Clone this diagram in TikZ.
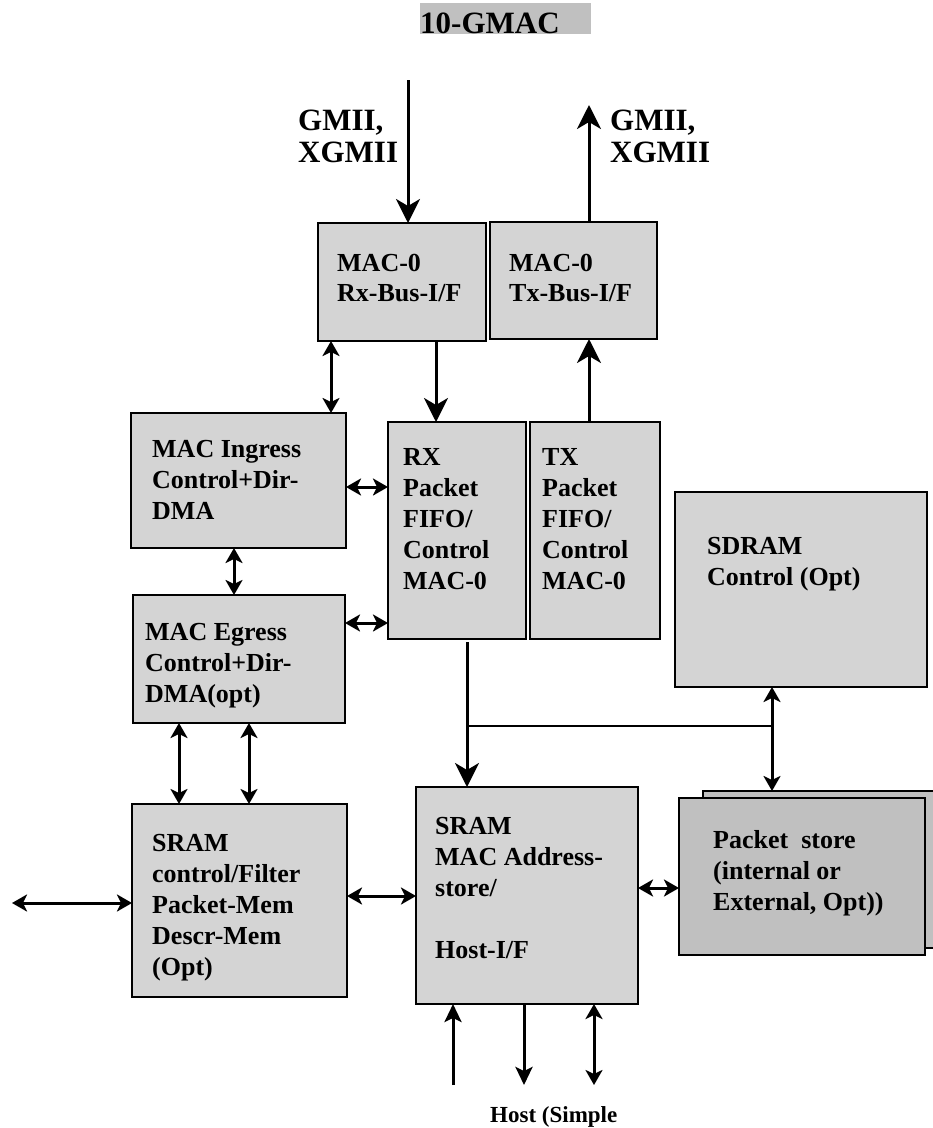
\documentclass[tikz,border=0pt]{standalone}
\usepackage{fontspec}
\setmainfont{Liberation Serif}
\usetikzlibrary{arrows.meta}
\definecolor{boxgrey}{RGB}{212,212,212}
\definecolor{pgrey}{RGB}{192,192,192}
\begin{document}
\begin{tikzpicture}[x=1pt,y=-1pt,
  box/.style={draw, line width=2pt, fill=boxgrey, inner sep=0pt, outer sep=0pt, anchor=north west},
  pbox/.style={box, fill=pgrey},
  txt/.style={font=\fontsize{26pt}{31pt}\selectfont\bfseries, align=left, inner sep=0pt, anchor=base west},
  big/.style={line width=3pt, -{Stealth[length=24pt,width=24pt,inset=7pt]}},
  sgl/.style={line width=3pt, -{Stealth[length=18pt,width=17pt,inset=4pt]}},
  dbl/.style={line width=3pt, {Stealth[length=15pt,width=17pt,inset=4pt]}-{Stealth[length=15pt,width=17pt,inset=4pt]}},
  ]
\useasboundingbox (0,0) rectangle (933,1128);
\clip (0,0) rectangle (933,1128);

% title
\fill[pgrey] (420,3) rectangle (591,34);
\node[font=\fontsize{31pt}{36pt}\selectfont\bfseries, inner sep=0pt, anchor=base west] (title) at (420,33) {10-GMAC};

% interface labels (anchor = baseline of last line)
\node[txt, font=\fontsize{31pt}{32pt}\selectfont\bfseries] (gmiiL) at (298,162) {GMII,\\XGMII};
\node[txt, font=\fontsize{31pt}{32pt}\selectfont\bfseries] (gmiiR) at (610,162) {GMII,\\XGMII};

% boxes
\node[box, minimum width=168pt, minimum height=118pt] (rxbus) at (318,223) {};
\node[box, minimum width=167pt, minimum height=117pt] (txbus) at (490,222) {};
\node[box, minimum width=215pt, minimum height=135pt] (ingress) at (131,413) {};
\node[box, minimum width=138pt, minimum height=217pt] (rxfifo) at (388,422) {};
\node[box, minimum width=130pt, minimum height=217pt] (txfifo) at (530,422) {};
\node[box, minimum width=252pt, minimum height=195pt] (sdram) at (675,492) {};
\node[box, minimum width=212pt, minimum height=128pt] (egress) at (133,595) {};
\node[box, minimum width=215pt, minimum height=193pt] (sramctl) at (132,804) {};
\node[box, minimum width=222pt, minimum height=217pt] (srammac) at (416,787) {};
\node[pbox, minimum width=280pt, minimum height=157pt] (pstoreback) at (703,791) {};
\node[pbox, minimum width=246pt, minimum height=157pt] (pstore) at (679,798) {};

% box texts (anchor = baseline of last line)
\node[txt, font=\fontsize{26pt}{30pt}\selectfont\bfseries] (rxbusT) at (337,301) {MAC-0\\Rx-Bus-I/F};
\node[txt, font=\fontsize{26pt}{30pt}\selectfont\bfseries] (txbusT) at (509,301) {MAC-0\\Tx-Bus-I/F};
\node[txt] (ingressT) at (152,519) {MAC Ingress\\Control+Dir-\\DMA};
\node[txt] (rxfifoT) at (403,589) {RX\\Packet\\FIFO/\\Control\\MAC-0};
\node[txt] (txfifoT) at (542,589) {TX\\Packet\\FIFO/\\Control\\MAC-0};
\node[txt] (sdramT) at (707,585) {SDRAM\\Control (Opt)};
\node[txt] (egressT) at (145,702) {MAC Egress\\Control+Dir-\\DMA(opt)};
\node[txt] (sramctlT) at (152,975) {SRAM\\control/Filter\\Packet-Mem\\Descr-Mem\\(Opt)};
\node[txt] (srammacT) at (435,958) {SRAM\\MAC Address-\\store/\\[31pt]Host-I/F};
\node[txt] (pstoreT) at (713,910) {Packet\ \ store\\(internal or\\External, Opt))};
\node[txt, font=\fontsize{23pt}{27pt}\selectfont\bfseries] (hostT) at (490,1122) {Host (Simple};

% helper coordinates
\coordinate (gin) at (408,80);
\coordinate (gout) at (589,105);
\coordinate (c331) at (331,0);
\coordinate (c436) at (436,0);
\coordinate (r487) at (0,487);
\coordinate (c234) at (234,0);
\coordinate (r623) at (0,623);
\coordinate (c179) at (179,0);
\coordinate (c249) at (249,0);
\coordinate (lft) at (12,903);
\coordinate (r896) at (0,896);
\coordinate (c467) at (467,0);
\coordinate (j1) at (467,726);
\coordinate (j2) at (772,726);
\coordinate (c772) at (772,0);
\coordinate (r888) at (0,888);
\coordinate (h1) at (453,1085);
\coordinate (h2) at (524,1085);
\coordinate (h3) at (594,1085);

% connectors
\draw[big] (gin) -- (gin |- rxbus.north);
\draw[big] (txbus.north -| gout) -- (gout);
\draw[dbl] (rxbus.south -| c331) -- (ingress.north -| c331);
\draw[big] (rxbus.south -| c436) -- (rxfifo.north -| c436);
\draw[big] (txfifo.north -| gout) -- (txbus.south -| gout);
\draw[dbl] (ingress.east |- r487) -- (rxfifo.west |- r487);
\draw[dbl] (ingress.south -| c234) -- (egress.north -| c234);
\draw[dbl] (egress.east |- r623) -- (rxfifo.west |- r623);
\draw[dbl] (egress.south -| c179) -- (sramctl.north -| c179);
\draw[dbl] (egress.south -| c249) -- (sramctl.north -| c249);
\draw[dbl] (lft) -- (sramctl.west |- lft);
\draw[dbl] (sramctl.east |- r896) -- (srammac.west |- r896);
\draw[big] ([yshift=-3pt]rxfifo.south -| c467) -- (srammac.north -| c467);
\draw[line width=2.5pt] (j1) -- (j2);
\draw[dbl] (sdram.south -| c772) -- (pstoreback.north -| c772);
\draw[dbl] (srammac.east |- r888) -- (pstore.west |- r888);
\draw[sgl] (h1) -- (srammac.south -| h1);
\draw[sgl] (srammac.south -| h2) -- (h2);
\draw[dbl] (h3) -- (srammac.south -| h3);
\end{tikzpicture}
\end{document}
